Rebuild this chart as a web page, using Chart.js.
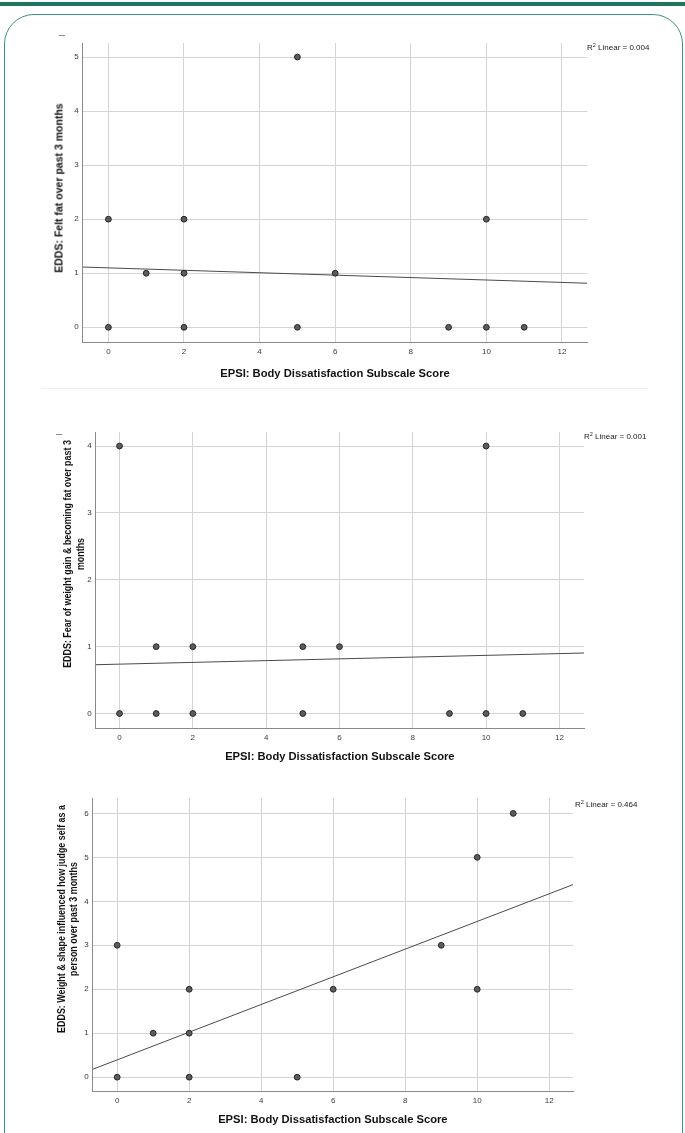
<!DOCTYPE html>
<html>
<head>
<meta charset="utf-8">
<script src="https://cdn.jsdelivr.net/npm/chart.js@4.4.1/dist/chart.umd.min.js"></script>
<style>
body { margin: 0; width: 685px; height: 1133px; overflow: hidden; background: #fff; position: relative; font-family: Arial, "Liberation Sans", sans-serif; }
.topbar { position: absolute; left: 0; top: 2px; width: 685px; height: 4px; background: #1d7560; }
.frame { position: absolute; left: 4px; top: 14px; width: 677px; height: 1300px; border: 1px solid #3a9580; border-radius: 30px; }
.divider { position: absolute; left: 41px; top: 388px; width: 607px; height: 1px; background: #ededed; }
.dash { position: absolute; width: 6px; height: 1px; background: #8a8a8a; }
canvas { position: absolute; left: 0; }
.r2 { position: absolute; font-size: 8px; color: #222; white-space: nowrap; line-height: 10px; }
.r2 sup { font-size: 5.5px; vertical-align: 3px; line-height: 0; }
.ytitle { position: absolute; font-weight: bold; color: #111; white-space: nowrap; text-align: center; }
</style>
</head>
<body>
<div class="topbar"></div>
<div class="frame"></div>
<div class="divider"></div>
<div class="dash" style="left:59px;top:35px"></div>
<div class="dash" style="left:56px;top:434px"></div>

<canvas id="c1" width="685" height="352" style="top:33px"></canvas>
<canvas id="c2" width="685" height="348" style="top:422px"></canvas>
<canvas id="c3" width="685" height="345" style="top:788px"></canvas>

<div class="r2" style="left:587px;top:43px">R<sup>2</sup> Linear = 0.004</div>
<div class="r2" style="left:584px;top:432px">R<sup>2</sup> Linear = 0.001</div>
<div class="r2" style="left:575px;top:800px">R<sup>2</sup> Linear = 0.464</div>

<div class="ytitle" style="left:59px;top:188px;font-size:11.2px;line-height:13px;transform:translate(-50%,-50%) rotate(-90deg) scaleX(0.94)">EDDS: Felt fat over past 3 months</div>
<div class="ytitle" style="left:73.5px;top:554px;font-size:11px;line-height:13px;transform:translate(-50%,-50%) rotate(-90deg) scaleX(0.81)">EDDS: Fear of weight gain &amp; becoming fat over past 3<br>months</div>
<div class="ytitle" style="left:66.5px;top:919px;font-size:10.6px;line-height:11.5px;transform:translate(-50%,-50%) rotate(-90deg) scaleX(0.84)">EDDS: Weight &amp; shape influenced how judge self as a<br>person over past 3 months</div>

<script>
'use strict'
Chart.defaults.font.family = 'Arial, "Liberation Sans", sans-serif';

const xTitle = 'EPSI: Body Dissatisfaction Subscale Score';
const xTicks = [0, 2, 4, 6, 8, 10, 12];

// EDDS: Felt fat
const feltX = [0, 0, 1, 2, 2, 2, 5, 5, 6, 9, 10, 10, 11];
const feltY = [2, 0, 1, 2, 1, 0, 5, 0, 1, 0, 2, 0, 0];
const feltYTicks = [0, 1, 2, 3, 4, 5];
const feltXRange = [-0.68, 12.67];
const feltYRange = [-0.285, 5.26];
const feltFitY = [1.115, 0.815];

// EDDS: Fear of weight gain
const fearX = [0, 0, 1, 1, 2, 2, 5, 5, 6, 9, 10, 10, 11];
const fearY = [4, 0, 1, 0, 1, 0, 1, 0, 1, 0, 4, 0, 0];
const fearYTicks = [0, 1, 2, 3, 4];
const fearXRange = [-0.65, 12.67];
const fearYRange = [-0.227, 4.21];
const fearFitY = [0.73, 0.905];

// EDDS: Weight & shape influenced self-judgement
const judgeX = [0, 0, 1, 2, 2, 2, 5, 6, 9, 10, 10, 11];
const judgeY = [3, 0, 1, 2, 1, 0, 0, 2, 3, 5, 2, 6];
const judgeYTicks = [0, 1, 2, 3, 4, 5, 6];
const judgeXRange = [-0.68, 12.66];
const judgeYRange = [-0.33, 6.35];
const judgeFitY = [0.18, 4.38];

function drawScatter(id, box, xs, ys, xRange, yRange, yTicks, fitY) {
    const pts = xs.map((x, i) => ({ x: x, y: ys[i] }));
    new Chart(document.getElementById(id), {
        type: 'scatter',
        data: {
            datasets: [{
                data: pts,
                pointRadius: 2.9,
                backgroundColor: '#5c5c5c',
                borderColor: '#262626',
                borderWidth: 1
            }, {
                data: [{ x: xRange[0], y: fitY[0] }, { x: xRange[1], y: fitY[1] }],
                showLine: true,
                pointRadius: 0,
                borderColor: '#4a4a4a',
                borderWidth: 1
            }]
        },
        options: {
            responsive: false,
            animation: false,
            devicePixelRatio: 1,
            layout: { padding: { top: 10, right: 685 - box.right, left: 0, bottom: 0 } },
            plugins: { legend: { display: false }, tooltip: { enabled: false } },
            scales: {
                x: {
                    type: 'linear',
                    min: xRange[0],
                    max: xRange[1],
                    afterBuildTicks: s => { s.ticks = xTicks.map(v => ({ value: v })); },
                    afterFit: s => { s.height = box.axisH; },
                    grid: { color: '#d4d4d4', drawTicks: false },
                    border: { color: '#8a8a8a' },
                    ticks: { font: { size: 8 }, color: '#3a3a3a', padding: 4 },
                    title: {
                        display: true,
                        text: xTitle,
                        font: { size: 11.2, weight: 'bold' },
                        color: '#111',
                        padding: { top: 0, bottom: box.titlePad }
                    }
                },
                y: {
                    type: 'linear',
                    min: yRange[0],
                    max: yRange[1],
                    afterBuildTicks: s => { s.ticks = yTicks.map(v => ({ value: v })); },
                    afterFit: s => { s.width = box.left; },
                    grid: { color: '#d4d4d4', drawTicks: false },
                    border: { color: '#8a8a8a' },
                    ticks: { font: { size: 8 }, color: '#3a3a3a', padding: 4 }
                }
            }
        }
    });
}

drawScatter('c1', { left: 82.7, right: 587.3, axisH: 42.3, titlePad: 4.3 },
    feltX, feltY, feltXRange, feltYRange, feltYTicks, feltFitY);
drawScatter('c2', { left: 95.7, right: 584, axisH: 41.3, titlePad: 6.3 },
    fearX, fearY, fearXRange, fearYRange, fearYTicks, fearFitY);
drawScatter('c3', { left: 92.7, right: 573, axisH: 41.3, titlePad: 6.3 },
    judgeX, judgeY, judgeXRange, judgeYRange, judgeYTicks, judgeFitY);
</script>
</body>
</html>
